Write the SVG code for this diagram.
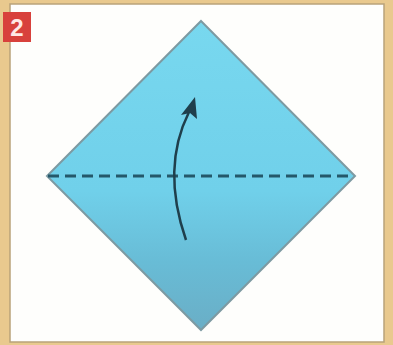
<svg xmlns="http://www.w3.org/2000/svg" width="393" height="345" viewBox="0 0 393 345">
<defs>
<linearGradient id="paper" x1="0" y1="0" x2="0" y2="1">
<stop offset="0" stop-color="#78d8ef"/>
<stop offset="0.55" stop-color="#70d0ea"/>
<stop offset="0.78" stop-color="#68bcd6"/>
<stop offset="1" stop-color="#6aaec6"/>
</linearGradient>
<style>
.crease{stroke:#24586a;stroke-width:3;stroke-dasharray:11 6;fill:none}
.arrow{stroke:#1f3f4c;stroke-width:2.5;fill:none}
.head{fill:#1f3f4c}
</style>
</defs>
<rect x="0" y="0" width="393" height="345" fill="#e9c98e"/>
<rect x="10" y="4" width="374" height="338" fill="#fefefc" stroke="#b9a27a" stroke-width="1.5"/>
<g id="badge">
<rect x="3" y="12" width="28" height="30" fill="#d8413c"/>
<text x="17" y="36" font-family="Liberation Sans, Arial, sans-serif" font-size="24" font-weight="bold" fill="#ffe9e6" text-anchor="middle">2</text>
</g>
<g id="paper-square">
<polygon points="201,21 355,176 201,330 47,176" fill="url(#paper)" stroke="#7d9aa2" stroke-width="2"/>
</g>
<g id="connectors">
<line class="crease" x1="48" y1="176" x2="354" y2="176"/>
<path class="arrow" d="M186,240 Q161,168 189,112"/>
<polygon class="head" points="195,97 197,119 190,113 181,115"/>
</g>
</svg>
